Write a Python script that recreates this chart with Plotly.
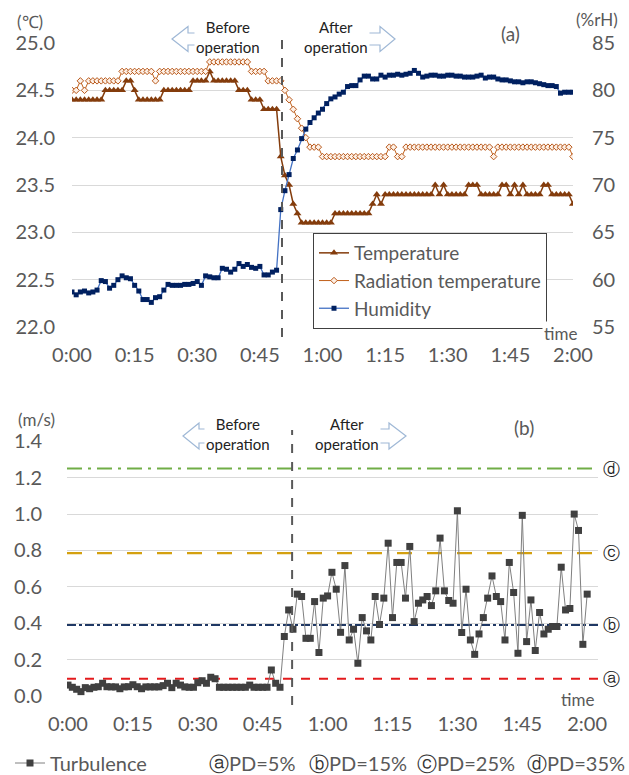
import plotly.graph_objects as go

# ---------------- data ----------------
minutes = list(range(121))
tick_minutes = [0, 15, 30, 45, 60, 75, 90, 105, 120]
tick_labels = ["0:00", "0:15", "0:30", "0:45", "1:00", "1:15", "1:30", "1:45", "2:00"]

temperature = [
    24.4, 24.4, 24.4, 24.4, 24.4, 24.4, 24.4, 24.4, 24.5, 24.5,
    24.5, 24.5, 24.5, 24.6, 24.6, 24.5, 24.4, 24.4, 24.4, 24.4,
    24.4, 24.4, 24.5, 24.5, 24.5, 24.5, 24.5, 24.5, 24.5, 24.6,
    24.6, 24.6, 24.6, 24.7, 24.6, 24.6, 24.6, 24.6, 24.6, 24.6,
    24.5, 24.5, 24.5, 24.4, 24.4, 24.4, 24.3, 24.3, 24.3, 24.3,
    23.8, 23.6, 23.5, 23.3, 23.2, 23.1, 23.1, 23.1, 23.1, 23.1,
    23.1, 23.1, 23.1, 23.2, 23.2, 23.2, 23.2, 23.2, 23.2, 23.2,
    23.2, 23.2, 23.3, 23.4, 23.3, 23.4, 23.4, 23.4, 23.4, 23.4,
    23.4, 23.4, 23.4, 23.4, 23.4, 23.4, 23.4, 23.5, 23.4, 23.5,
    23.4, 23.4, 23.4, 23.4, 23.4, 23.5, 23.5, 23.5, 23.4, 23.4,
    23.4, 23.4, 23.4, 23.5, 23.5, 23.4, 23.5, 23.4, 23.5, 23.4,
    23.4, 23.4, 23.4, 23.5, 23.5, 23.4, 23.4, 23.4, 23.4, 23.4,
    23.3,
]

radiation_temperature = [
    24.5, 24.5, 24.6, 24.5, 24.6, 24.6, 24.6, 24.6, 24.6, 24.6,
    24.6, 24.6, 24.7, 24.7, 24.7, 24.7, 24.7, 24.7, 24.7, 24.7,
    24.6, 24.7, 24.7, 24.7, 24.7, 24.7, 24.7, 24.7, 24.7, 24.7,
    24.7, 24.7, 24.7, 24.8, 24.8, 24.8, 24.8, 24.8, 24.8, 24.8,
    24.8, 24.8, 24.8, 24.7, 24.7, 24.7, 24.7, 24.6, 24.6, 24.6,
    24.6, 24.5, 24.4, 24.3, 24.2, 24.1, 24.0, 23.9, 23.9, 23.9,
    23.8, 23.8, 23.8, 23.8, 23.8, 23.8, 23.8, 23.8, 23.8, 23.8,
    23.8, 23.8, 23.8, 23.8, 23.8, 23.8, 23.9, 23.9, 23.8, 23.8,
    23.9, 23.9, 23.9, 23.9, 23.9, 23.9, 23.9, 23.9, 23.9, 23.9,
    23.9, 23.9, 23.9, 23.9, 23.9, 23.9, 23.9, 23.9, 23.9, 23.9,
    23.9, 23.8, 23.9, 23.9, 23.9, 23.9, 23.9, 23.9, 23.9, 23.9,
    23.9, 23.9, 23.9, 23.9, 23.9, 23.9, 23.9, 23.9, 23.9, 23.9,
    23.8,
]

humidity = [
    58.7, 58.4, 58.7, 58.8, 58.6, 58.7, 58.9, 59.9, 59.8, 59.1,
    59.4, 60.0, 60.4, 60.2, 60.1, 59.4, 58.8, 57.9, 57.9, 57.6,
    58.1, 58.2, 58.9, 59.5, 59.4, 59.4, 59.4, 59.5, 59.5, 59.6,
    59.8, 59.4, 60.4, 60.3, 60.2, 60.2, 61.2, 61.1, 60.8, 61.1,
    61.7, 61.4, 61.6, 61.3, 61.2, 61.4, 60.5, 60.5, 60.8, 61.0,
    67.4, 69.4, 71.1, 72.8, 73.7, 74.9, 75.9, 76.6, 77.1, 77.6,
    78.0, 78.6, 79.1, 79.3, 79.6, 79.8, 80.4, 80.5, 80.5, 81.1,
    81.5, 81.5, 81.2, 81.2, 81.6, 81.4, 81.6, 81.6, 81.7, 81.6,
    81.7, 81.8, 82.1, 81.8, 81.4, 81.5, 81.6, 81.6, 81.5, 81.5,
    81.6, 81.6, 81.5, 81.5, 81.4, 81.4, 81.4, 81.5, 81.6, 81.3,
    81.4, 81.4, 81.2, 81.1, 81.1, 81.0, 80.9, 80.9, 80.8, 80.9,
    80.9, 80.8, 80.7, 80.6, 80.5, 80.5, 80.4, 79.7, 79.8, 79.8,
    79.8,
]

turbulence = [
    0.060, 0.048, 0.037, 0.024, 0.046, 0.040, 0.048, 0.051, 0.070, 0.051,
    0.050, 0.050, 0.040, 0.050, 0.051, 0.062, 0.051, 0.040, 0.050, 0.050,
    0.050, 0.050, 0.057, 0.070, 0.046, 0.070, 0.060, 0.050, 0.048, 0.048,
    0.073, 0.084, 0.070, 0.103, 0.095, 0.048, 0.048, 0.048, 0.048, 0.048,
    0.048, 0.048, 0.060, 0.048, 0.048, 0.048, 0.048, 0.143, 0.070, 0.048,
    0.327, 0.473, 0.367, 0.560, 0.547, 0.317, 0.317, 0.519, 0.239, 0.538,
    0.550, 0.680, 0.587, 0.350, 0.717, 0.308, 0.367, 0.180, 0.431, 0.358,
    0.308, 0.547, 0.393, 0.538, 0.840, 0.431, 0.734, 0.734, 0.538, 0.822,
    0.409, 0.510, 0.528, 0.547, 0.497, 0.578, 0.868, 0.578, 0.525, 0.510,
    1.018, 0.349, 0.587, 0.308, 0.229, 0.341, 0.431, 0.538, 0.660, 0.547,
    0.519, 0.308, 0.734, 0.569, 0.235, 0.993, 0.299, 0.528, 0.250, 0.459,
    0.341, 0.367, 0.382, 0.382, 0.708, 0.473, 0.481, 1.000, 0.910, 0.284,
    0.560,
]

pd_levels = [0.095, 0.39, 0.785, 1.25]
pd_marks = ["ⓐ", "ⓑ", "ⓒ", "ⓓ"]
pd_texts = ["PD=5%", "PD=15%", "PD=25%", "PD=35%"]
operation_start_a = 50.3   # minutes
operation_start_b = 51.8   # minutes

# ---------------- styling ----------------
W, H = 629, 775
FONT = "Lato"
GRAY = "#595959"
GRID = "#d9d9d9"


def fx(x):
    return x / W


def fy(y):
    return 1 - y / H


fig = go.Figure()

fig.add_trace(go.Scatter(
    x=minutes, y=temperature, name="Temperature", mode="lines+markers",
    line=dict(color="#843C0C", width=1.5),
    marker=dict(symbol="triangle-up", size=7, color="#843C0C"),
    xaxis="x", yaxis="y", legend="legend"))
fig.add_trace(go.Scatter(
    x=minutes, y=radiation_temperature, name="Radiation temperature", mode="lines+markers",
    line=dict(color="#C0601A", width=1),
    marker=dict(symbol="diamond", size=5, color="#fdf0e6", line=dict(color="#B8581A", width=1)),
    xaxis="x", yaxis="y", legend="legend"))
fig.add_trace(go.Scatter(
    x=minutes, y=humidity, name="Humidity", mode="lines+markers",
    line=dict(color="#4472C4", width=1.3),
    marker=dict(symbol="square", size=5, color="#002060"),
    xaxis="x", yaxis="y2", legend="legend"))
fig.add_trace(go.Scatter(
    x=minutes, y=turbulence, name="Turbulence", mode="lines+markers",
    line=dict(color="#808080", width=1),
    marker=dict(symbol="square", size=7, color="#404040"),
    xaxis="x2", yaxis="y3", legend="legend2"))

# axes
top_dom_x = [fx(72), fx(573)]
top_dom_y = [fy(327), fy(43)]
bot_dom_x = [fx(67), fx(598)]
bot_dom_y = [fy(696), fy(441.3)]

tickfont = dict(family=FONT, size=20, color=GRAY)

fig.update_layout(
    width=W, height=H,
    margin=dict(l=0, r=0, t=0, b=0, autoexpand=False),
    paper_bgcolor="white", plot_bgcolor="white",
    font=dict(family=FONT, color=GRAY),
    xaxis=dict(domain=top_dom_x, range=[0, 120], tickvals=tick_minutes, ticktext=tick_labels,
               showgrid=False, zeroline=False, showline=False, tickfont=tickfont,
               anchor="y", ticklabelstandoff=14, automargin=False),
    yaxis=dict(domain=top_dom_y, range=[22, 25], dtick=0.5, tickformat=".1f",
               showgrid=True, gridcolor=GRID, gridwidth=1, zeroline=False, showline=False,
               tickfont=tickfont, anchor="x", ticklabelstandoff=16, automargin=False),
    yaxis2=dict(range=[55, 85], dtick=5, overlaying="y", side="right", anchor="x",
                showgrid=False, zeroline=False, showline=False, tickfont=tickfont,
                ticklabelstandoff=18, automargin=False),
    xaxis2=dict(domain=bot_dom_x, range=[-0.23, 122.5], tickvals=tick_minutes, ticktext=tick_labels,
                showgrid=False, zeroline=False, showline=False, tickfont=tickfont,
                anchor="y3", ticklabelstandoff=14, automargin=False),
    yaxis3=dict(domain=bot_dom_y, range=[0, 1.4], dtick=0.2, tickformat=".1f",
                showgrid=True, gridcolor=GRID, gridwidth=1, zeroline=False, showline=False,
                tickfont=tickfont, anchor="x2", ticklabelstandoff=24, automargin=False),
    legend=dict(x=fx(313), y=fy(233), xanchor="left", yanchor="top",
                bordercolor="#404040", borderwidth=1, bgcolor="white",
                font=dict(family=FONT, size=19, color=GRAY), itemwidth=30),
    legend2=dict(x=fx(10), y=fy(763), xanchor="left", yanchor="middle",
                 bgcolor="rgba(0,0,0,0)", font=dict(family=FONT, size=20, color=GRAY),
                 orientation="h", itemwidth=30),
    showlegend=True,
)

shapes = []
# vertical operation-start lines
shapes.append(dict(type="line", xref="x", yref="paper", x0=operation_start_a, x1=operation_start_a,
                   y0=fy(337), y1=fy(33), line=dict(color="#595959", width=2, dash="dash")))
shapes.append(dict(type="line", xref="x2", yref="paper", x0=operation_start_b, x1=operation_start_b,
                   y0=fy(705), y1=fy(430), line=dict(color="#595959", width=2, dash="dash")))

# PD threshold lines
pd_styles = [
    dict(color="#E31A1C", width=2, dash="dash"),
    dict(color="#1F3864", width=2, dash="dashdot"),
    dict(color="#D4A00F", width=2.2, dash="longdash"),
    dict(color="#70AD47", width=2, dash="longdashdot"),
]
for lvl, st in zip(pd_levels, pd_styles):
    shapes.append(dict(type="line", xref="x2 domain", yref="y3", x0=0, x1=1, y0=lvl, y1=lvl,
                       line=st, layer="below"))


def arrow(tip_x, tip_y, head_x, tail_x, hh, bh):
    pts = [(tip_x, tip_y), (head_x, tip_y - hh), (head_x, tip_y - bh), (tail_x, tip_y - bh),
           (tail_x, tip_y + bh), (head_x, tip_y + bh), (head_x, tip_y + hh)]
    d = "M " + " L ".join(f"{fx(a):.5f},{fy(b):.5f}" for a, b in pts) + " Z"
    return dict(type="path", xref="paper", yref="paper", path=d,
                fillcolor="white", line=dict(color="#9fb8d6", width=1.2))


shapes.append(arrow(172, 39, 188, 240, 12.5, 6))
shapes.append(arrow(395, 39, 380, 330, 12.5, 6))
shapes.append(arrow(183, 436, 199, 250, 13, 7))
shapes.append(arrow(406, 436, 389, 340, 13, 7))

fig.update_layout(shapes=shapes)

ann = []


def text(x, y, s, size, color=GRAY, bg=None, xanchor="center", family=FONT):
    d = dict(x=fx(x), y=fy(y), xref="paper", yref="paper", text=s, showarrow=False,
             xanchor=xanchor, yanchor="middle", font=dict(family=family, size=size, color=color))
    if bg:
        d["bgcolor"] = bg
    ann.append(d)


text(228, 37, "Before<br>operation", 15, "#222222", bg="white")
text(336, 37, "After<br>operation", 15, "#222222", bg="white")
text(238, 434, "Before<br>operation", 15, "#222222", bg="white")
text(347, 434, "After<br>operation", 15, "#222222", bg="white")
text(30, 21, "(℃)", 17)
text(597, 20, "(%rH)", 17)
text(36, 419, "(m/s)", 17)
text(510, 33, "(a)", 19)
text(524, 427, "(b)", 19)
text(560, 333, "time", 17, bg="white")
text(577, 699, "time", 17, bg="white")

for lvl, mk in zip(pd_levels, pd_marks):
    ann.append(dict(x=fx(611), y=lvl, xref="paper", yref="y3", text=mk, showarrow=False,
                    xanchor="center", yanchor="middle",
                    font=dict(family="DejaVu Serif", size=17, color="#222222")))

for xpos, mk, lab in zip([207, 307, 415, 525], pd_marks, pd_texts):
    text(xpos, 763, f"<span style='font-family:DejaVu Serif;color:#333333'>{mk}</span>{lab}",
         20, xanchor="left")

fig.update_layout(annotations=ann)

fig.write_html("out.html", config={"displayModeBar": False},
               post_script="document.body.style.margin='0';document.body.style.padding='0';")
